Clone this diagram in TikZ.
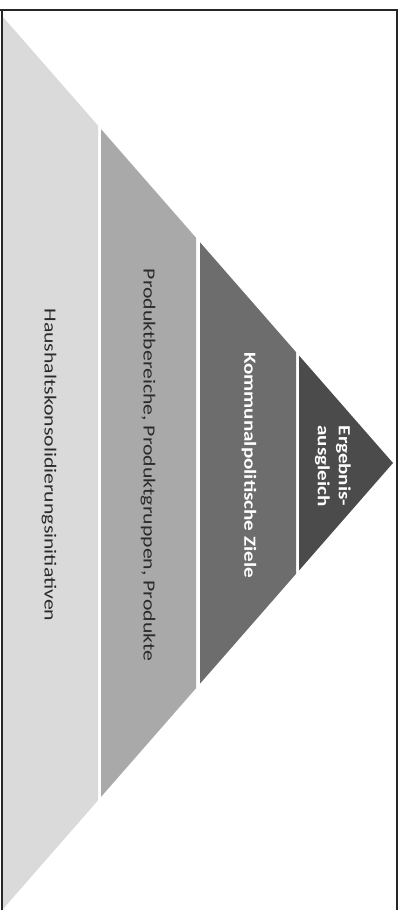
\documentclass[tikz,border=0pt]{standalone}
\usepackage{fontspec}
\setmainfont{Carlito}
% labels run along the bands, set slightly wide
\newfontfamily\darklabelfont[FakeStretch=1.28]{Carlito}
\newfontfamily\lightlabelfont[FakeStretch=1.24]{Carlito}
\definecolor{bandA}{HTML}{DADADA}
\definecolor{bandB}{HTML}{A9A9A9}
\definecolor{bandC}{HTML}{6D6D6D}
\definecolor{bandD}{HTML}{4B4B4B}
\definecolor{inkdark}{HTML}{2A2A2A}
\begin{document}
\begin{tikzpicture}[x=1pt,y=-1pt,
  bandlabel/.style={rotate=-90, inner sep=0pt, align=center},
  darklabel/.style={bandlabel, text=inkdark, font=\darklabelfont\fontsize{17}{21}\selectfont},
  lightlabel/.style={bandlabel, text=white, font=\lightlabelfont\bfseries\fontsize{17}{21}\selectfont},
  framestroke/.style={line width=1.4pt, draw=black!85}]
\useasboundingbox (0,0) rectangle (405,910);
% layered triangle, apex to the right
\fill[bandA] (3,17) -- (98,125.6) -- (98,800.4) -- (3,909) -- cycle;
\fill[bandB] (101,129.1) -- (196,237.7) -- (196,688.3) -- (101,796.9) -- cycle;
\fill[bandC] (200,242.3) -- (296,352.1) -- (296,573.9) -- (200,683.7) -- cycle;
\fill[bandD] (299,355.5) -- (393,463) -- (299,570.5) -- cycle;
% labels
\node[darklabel] (l1) at (49,465) {Haushaltskonsolidierungsinitiativen};
\node[darklabel] (l2) at (148,465) {Produktbereiche, Produktgruppen, Produkte};
\node[lightlabel] (l3) at (249,465) {Kommunalpolitische Ziele};
\node[lightlabel] (l4) at (333,466) {Ergebnis-\\ausgleich};
% frame
\draw[framestroke] (0,10) -- (397,10) -- (397,910);
\draw[framestroke] (2,10) -- (2,910);
\end{tikzpicture}
\end{document}
